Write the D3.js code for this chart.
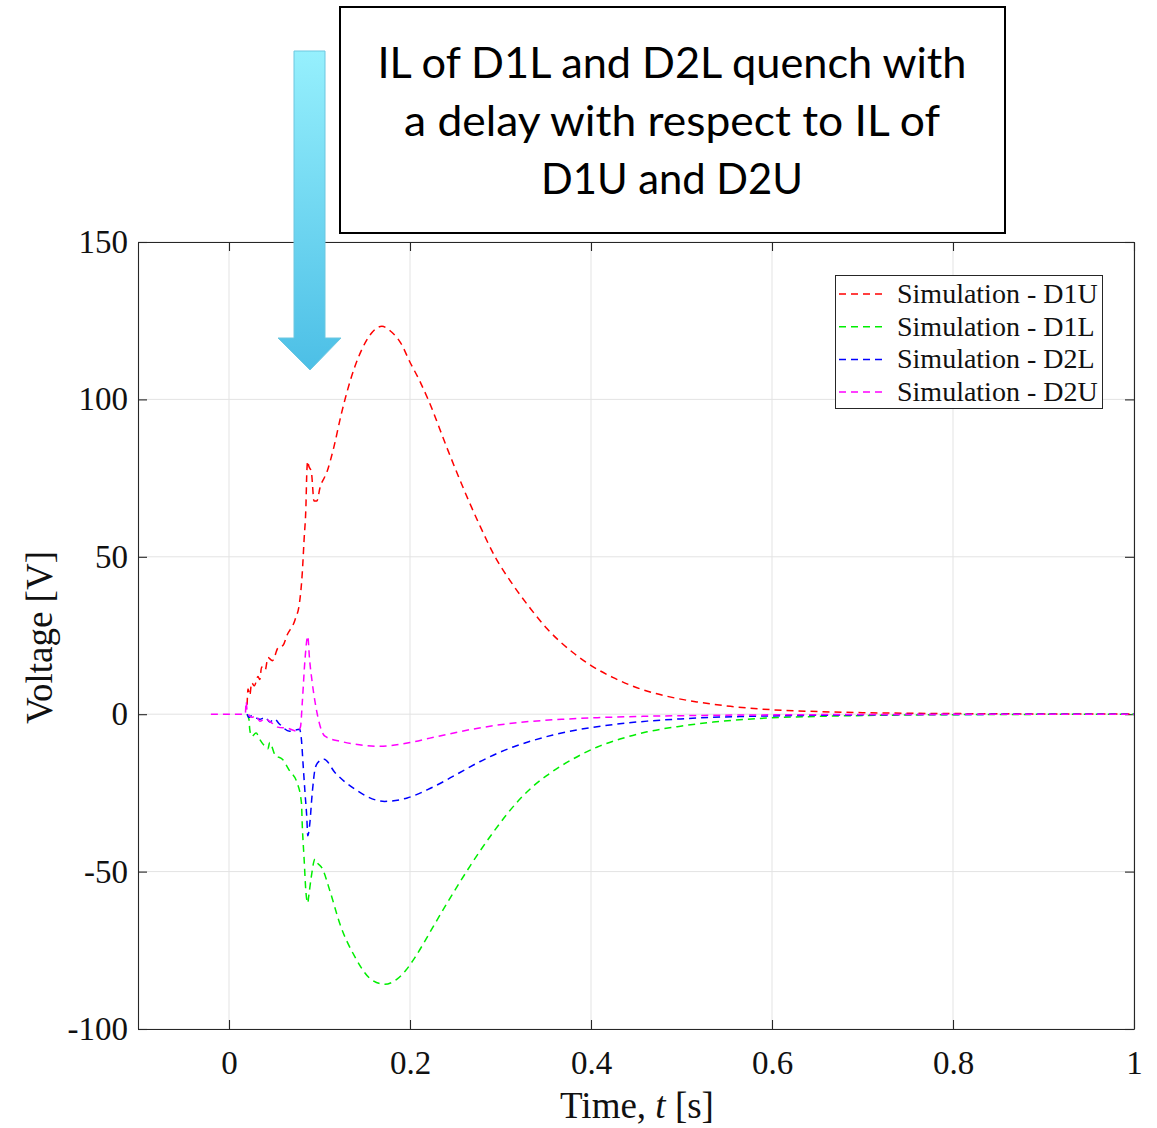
<!DOCTYPE html>
<html><head><meta charset="utf-8">
<script src="https://cdn.jsdelivr.net/npm/d3@7/dist/d3.min.js"></script>
<style>body{margin:0;background:#fff}svg{display:block}</style>
</head><body>
<script>
// ---- data ----
const seriesNames = ["Simulation - D1U","Simulation - D1L","Simulation - D2L","Simulation - D2U"];
const seriesColors = ["#ff0000","#00ee00","#0000ff","#ff00ff"];
const tD1U = [0.020,0.021,0.023,0.025,0.028,0.032,0.034,0.036,0.040,0.043,0.048,0.054,0.060,0.064,0.073,0.078,0.081,0.083,0.085,0.086,0.087,0.088,0.091,0.094,0.097,0.1006,0.1083,0.116,0.1238,0.1315,0.1392,0.147,0.1547,0.1624,0.169,0.178,0.190,0.200,0.210,0.220,0.241,0.255,0.277,0.294,0.314,0.333,0.351,0.380,0.401,0.424,0.454,0.487,0.517,0.554,0.601,0.650,0.700,0.800,0.900,1.000];
const vD1U = [3,8,6,10,9,12,11,15,14,18,17,21,22,25,30,35.6,45,55.6,66,77,80.4,79,77,67.7,67.7,72,77,85,95,103.5,110.5,116,120,122.5,123.2,121.8,117.8,111.8,106.3,100,84.5,74.5,60,50,41,33.6,27.3,19.6,15.3,11.7,8.1,5.5,3.9,2.5,1.4,0.85,0.5,0.2,0.08,0.03];
const tD1L = [0.020,0.022,0.023,0.025,0.030,0.034,0.039,0.043,0.045,0.051,0.059,0.067,0.075,0.080,0.081,0.083,0.085,0.087,0.088,0.091,0.095,0.097,0.103,0.112,0.123,0.139,0.156,0.172,0.185,0.195,0.205,0.215,0.225,0.241,0.255,0.266,0.277,0.292,0.307,0.322,0.336,0.351,0.366,0.388,0.407,0.432,0.462,0.499,0.535,0.572,0.609,0.650,0.700,0.800,1.000];
const vD1L = [0,-1.6,-5,-7,-6,-8,-10,-11,-9,-13,-14.3,-18,-21.6,-28,-35.5,-46,-56.5,-60,-58,-51.5,-46,-47,-49,-56.6,-67,-77,-84,-85.8,-84.3,-81.5,-77.5,-72.8,-67.8,-60,-53.4,-48.4,-43.6,-37.5,-31.8,-26.8,-22.9,-19.5,-16.6,-13,-10.4,-7.9,-5.6,-3.8,-2.5,-1.6,-1.05,-0.7,-0.42,-0.15,0];
const tD2L = [0.020,0.022,0.025,0.030,0.034,0.040,0.045,0.050,0.056,0.067,0.078,0.080,0.082,0.084,0.086,0.087,0.089,0.092,0.095,0.098,0.105,0.117,0.139,0.172,0.197,0.222,0.241,0.259,0.277,0.296,0.314,0.333,0.358,0.388,0.424,0.462,0.499,0.535,0.572,0.650,0.700,0.800,1.000];
const vD2L = [0,-1,-0.5,-1.2,-1.6,-1,-2.5,-1.5,-3.2,-5.4,-4.8,-8,-16.5,-25,-33,-38.6,-35.5,-25,-17.5,-15.4,-14.3,-18.5,-23.8,-27.7,-26.6,-23.6,-20.8,-17.9,-15.1,-12.5,-10.4,-8.6,-6.6,-4.8,-3.3,-2.2,-1.5,-1.0,-0.7,-0.35,-0.2,-0.08,0];
const tD2U = [-0.020,0.018,0.019,0.020,0.025,0.030,0.034,0.040,0.046,0.054,0.065,0.076,0.079,0.081,0.084,0.087,0.089,0.092,0.098,0.106,0.123,0.139,0.165,0.200,0.222,0.241,0.270,0.296,0.333,0.369,0.407,0.462,0.535,0.600,0.700,1.000];
const vD2U = [0,0,4,1,-1,-0.5,-2.2,-1.5,-2.5,-4.1,-4.5,-5.4,-4,3.8,17.5,24.8,17.5,10,-0.6,-7,-8.6,-9.5,-10.2,-9.0,-7.6,-6.4,-4.7,-3.5,-2.3,-1.6,-1.1,-0.65,-0.35,-0.2,-0.1,0];
const seriesT = [tD1U,tD1L,tD2L,tD2U];
const seriesV = [vD1U,vD1L,vD2L,vD2U];
const xTicks = [0,0.2,0.4,0.6,0.8,1];
const xTickLabels = ["0","0.2","0.4","0.6","0.8","1"];
const yTicks = [-100,-50,0,50,100,150];
const yTickLabels = ["-100","-50","0","50","100","150"];
const noteLines = ["IL of D1L and D2L quench with","a delay with respect to IL of","D1U and D2U"];
const noteWidths = [589,536,262];

// ---- layout ----
const W=1157,H=1128;
const L=138,R=1134,T=242,B=1029;
const svg=d3.select("body").append("svg").attr("width",W).attr("height",H);
const x=d3.scaleLinear().domain([-0.1,1]).range([L+0.5,R]);
const y=d3.scaleLinear().domain([-100,150]).range([B,T]);
const serif="'Liberation Serif','Times New Roman',serif";
const axCol="#262626";

// grid
const g=svg.append("g");
g.selectAll(".gx").data(xTicks).join("line").attr("x1",d=>x(d)).attr("x2",d=>x(d)).attr("y1",T).attr("y2",B).attr("stroke","#e3e3e3").attr("stroke-width",1);
g.selectAll(".gy").data(yTicks).join("line").attr("x1",L).attr("x2",R).attr("y1",d=>y(d)).attr("y2",d=>y(d)).attr("stroke","#e3e3e3").attr("stroke-width",1);

// axes
const xa=svg.append("g").attr("transform",`translate(0,${B})`)
  .call(d3.axisBottom(x).tickValues(xTicks).tickFormat((d,i)=>xTickLabels[i]).tickSizeInner(-9).tickSizeOuter(0).tickPadding(22));
const xt=svg.append("g").attr("transform",`translate(0,${T})`)
  .call(d3.axisTop(x).tickValues(xTicks).tickFormat("").tickSizeInner(-9).tickSizeOuter(0));
const ya=svg.append("g").attr("transform",`translate(${L},0)`)
  .call(d3.axisLeft(y).tickValues(yTicks).tickFormat((d,i)=>yTickLabels[i]).tickSizeInner(-9).tickSizeOuter(0).tickPadding(10));
const yr=svg.append("g").attr("transform",`translate(${R},0)`)
  .call(d3.axisRight(y).tickValues(yTicks).tickFormat("").tickSizeInner(-9).tickSizeOuter(0));
[xa,xt,ya,yr].forEach(a=>{a.selectAll("path,line").attr("stroke",axCol).attr("stroke-width",1.1);
  a.selectAll("text").attr("font-family",serif).attr("font-size",33).attr("fill","#111");});

// lines
const line=d3.line().x(d=>x(d[0])).y(d=>y(d[1])).curve(d3.curveMonotoneX);
seriesT.forEach((ts,k)=>{
  const pts=ts.map((t,i)=>[t,seriesV[k][i]]);
  svg.append("path").attr("d",line(pts)).attr("fill","none").attr("stroke",seriesColors[k])
    .attr("stroke-width",1.5).attr("stroke-dasharray","7,5");
});

// axis labels
svg.append("text").attr("x",(557+717)/2).attr("y",1118).attr("text-anchor","middle")
  .attr("font-family",serif).attr("font-size",37).attr("fill","#111")
  .html('Time, <tspan font-style="italic">t</tspan> [s]');
svg.append("text").attr("transform",`translate(52,${(545+730)/2}) rotate(-90)`).attr("text-anchor","middle")
  .attr("font-family",serif).attr("font-size",37).attr("fill","#111").text("Voltage [V]");

// legend
const lg=svg.append("g");
lg.append("rect").attr("x",835.5).attr("y",275.5).attr("width",267).attr("height",133).attr("fill","#fff").attr("stroke",axCol).attr("stroke-width",1);
seriesNames.forEach((n,i)=>{
  const yy=294+i*32.7;
  lg.append("line").attr("x1",839).attr("x2",887).attr("y1",yy).attr("y2",yy).attr("stroke",seriesColors[i]).attr("stroke-width",1.5).attr("stroke-dasharray","7,5");
  lg.append("text").attr("x",897).attr("y",yy+9).attr("font-family",serif).attr("font-size",28).attr("fill","#111").text(n);
});

// annotation box
svg.append("rect").attr("x",340).attr("y",7).attr("width",665).attr("height",226).attr("fill","#fff").attr("stroke","#000").attr("stroke-width",2);
noteLines.forEach((s,i)=>{
  svg.append("text").attr("x",672).attr("y",78+i*58).attr("text-anchor","middle")
    .attr("font-family","Lato,'Open Sans',sans-serif").attr("font-size",43).attr("fill","#000")
    .attr("textLength",noteWidths[i]).attr("lengthAdjust","spacingAndGlyphs").text(s);
});

// arrow
const defs=svg.append("defs");
const gr=defs.append("linearGradient").attr("id","ag").attr("x1",0).attr("y1",0).attr("x2",0).attr("y2",1);
gr.append("stop").attr("offset","0%").attr("stop-color","#96f0fd");
gr.append("stop").attr("offset","100%").attr("stop-color","#4cbfe6");
svg.append("path").attr("d","M294,51 L325,51 L325,338 L341,338 L310,370 L278,338 L294,338 Z")
  .attr("fill","url(#ag)").attr("stroke","#6cc7e0").attr("stroke-width",1);
</script>
</body></html>
